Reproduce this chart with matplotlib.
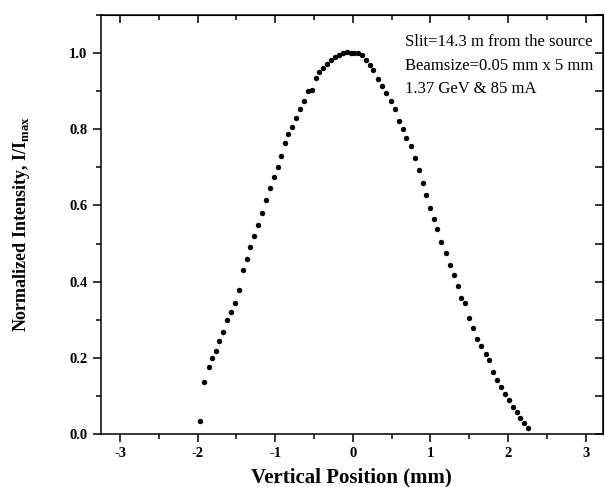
import matplotlib
matplotlib.use("Agg")
import matplotlib.pyplot as plt
from matplotlib.ticker import MultipleLocator

plt.rcParams['font.family'] = ['Liberation Serif', 'DejaVu Serif']
plt.rcParams['mathtext.fontset'] = 'custom'
plt.rcParams['mathtext.rm'] = 'Liberation Serif'
plt.rcParams['mathtext.bf'] = 'Liberation Serif:bold'
plt.rcParams['axes.unicode_minus'] = False

# vertical scan of the beam profile through the slit
position = [-1.97, -1.92, -1.86, -1.81, -1.76, -1.72, -1.67, -1.62, -1.57, -1.52,
            -1.47, -1.42, -1.37, -1.32, -1.27, -1.22, -1.17, -1.12, -1.07, -1.02,
            -0.97, -0.92, -0.88, -0.83, -0.78, -0.73, -0.68, -0.63, -0.58, -0.53,
            -0.48, -0.43, -0.38, -0.33, -0.28, -0.23, -0.18, -0.13, -0.08, -0.03,
            0.02, 0.07, 0.12, 0.17, 0.22, 0.26, 0.32, 0.37, 0.43, 0.49,
            0.54, 0.59, 0.64, 0.69, 0.75, 0.80, 0.85, 0.90, 0.94, 0.99,
            1.04, 1.09, 1.14, 1.20, 1.25, 1.30, 1.35, 1.40, 1.45, 1.50,
            1.55, 1.60, 1.65, 1.71, 1.75, 1.80, 1.86, 1.91, 1.96, 2.01,
            2.06, 2.11, 2.16, 2.21, 2.26]
intensity = [0.033, 0.137, 0.176, 0.199, 0.219, 0.244, 0.269, 0.298, 0.321, 0.345,
             0.378, 0.431, 0.460, 0.492, 0.520, 0.550, 0.579, 0.614, 0.646, 0.674,
             0.702, 0.730, 0.765, 0.787, 0.805, 0.829, 0.852, 0.873, 0.900, 0.904,
             0.934, 0.951, 0.961, 0.971, 0.983, 0.990, 0.996, 0.999, 1.003, 1.001,
             0.999, 1.001, 0.995, 0.982, 0.970, 0.955, 0.932, 0.914, 0.894, 0.874,
             0.853, 0.823, 0.802, 0.777, 0.757, 0.725, 0.692, 0.660, 0.627, 0.593,
             0.565, 0.538, 0.505, 0.475, 0.444, 0.418, 0.388, 0.358, 0.345, 0.305,
             0.279, 0.250, 0.232, 0.209, 0.194, 0.164, 0.142, 0.124, 0.105, 0.089,
             0.072, 0.057, 0.041, 0.028, 0.016]

notes = ["Slit=14.3 m from the source",
         "Beamsize=0.05 mm x 5 mm",
         "1.37 GeV & 85 mA"]

fig = plt.figure(figsize=(6.05, 4.87), dpi=100)
ax = fig.add_axes([0.1664, 0.1088, 0.8298, 0.8604])

ax.plot(position, intensity, 'o', color='black', markersize=3.9, markeredgewidth=0)

ax.set_xlim(-3.25, 3.22)
ax.set_ylim(0, 1.1)
ax.xaxis.set_major_locator(MultipleLocator(1))
ax.xaxis.set_minor_locator(MultipleLocator(0.5))
ax.yaxis.set_major_locator(MultipleLocator(0.2))
ax.yaxis.set_minor_locator(MultipleLocator(0.1))
ax.yaxis.set_major_formatter(lambda v, p: f"{v:.1f}")

for s in ax.spines.values():
    s.set_linewidth(1.1)

ax.tick_params(which='both', direction='out', top=False, right=False, width=1.1)
ax.tick_params(which='major', length=6, labelsize=10.5)
ax.tick_params(which='minor', length=3.5)

# mirrored ticks on top and right point into the frame
ax2 = ax.secondary_xaxis('top')
ax2.xaxis.set_major_locator(MultipleLocator(1))
ax2.xaxis.set_minor_locator(MultipleLocator(0.5))
ax2.tick_params(which='both', direction='in', labeltop=False, width=1.1)
ax2.tick_params(which='major', length=6)
ax2.tick_params(which='minor', length=3.5)
ay2 = ax.secondary_yaxis('right')
ay2.yaxis.set_major_locator(MultipleLocator(0.2))
ay2.yaxis.set_minor_locator(MultipleLocator(0.1))
ay2.tick_params(which='both', direction='in', labelright=False, width=1.1)
ay2.tick_params(which='major', length=6)
ay2.tick_params(which='minor', length=6)

for lab in ax.get_xticklabels() + ax.get_yticklabels():
    lab.set_fontweight('bold')

ax.set_xlabel("Vertical Position (mm)", fontsize=15, fontweight='bold', labelpad=5)
ax.set_ylabel(r"Normalized Intensity, I/I$_{\mathbf{max}}$", fontsize=13,
              fontweight='bold', labelpad=27)

for i, line in enumerate(notes):
    ax.text(0.607, 0.935 - i * 0.056, line, transform=ax.transAxes,
            fontsize=12, va='center', ha='left')

fig.savefig("out.png", dpi=100)
